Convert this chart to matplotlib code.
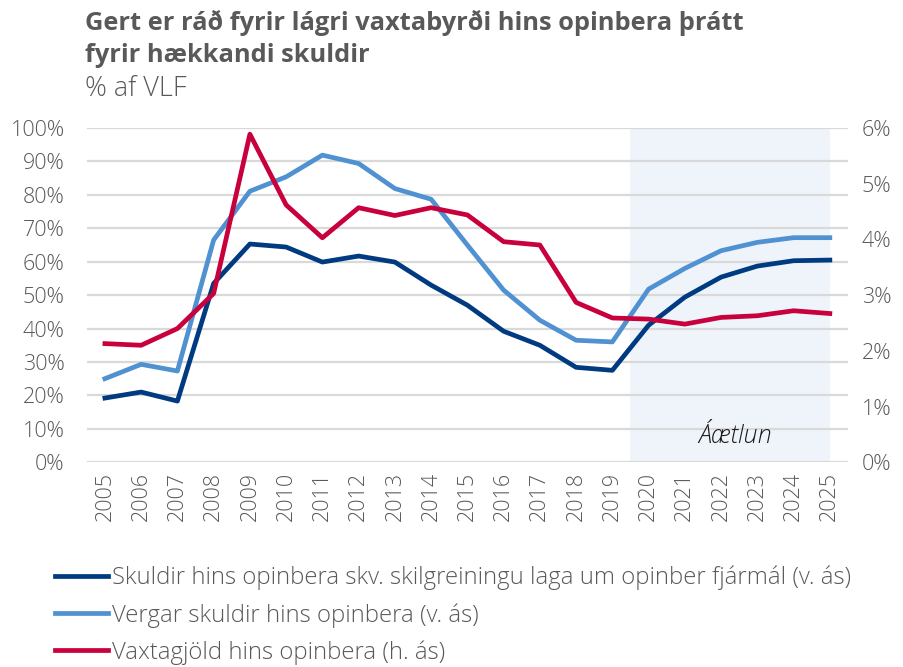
import matplotlib.pyplot as plt
import numpy as np

plt.rcParams['font.family'] = ['Open Sans', 'DejaVu Sans']

years = list(range(2005, 2026))
skuldir_log = [19.2, 21.0, 18.3, 53.5, 65.3, 64.4, 59.9, 61.7, 59.9, 53.0, 47.0,
               39.2, 35.0, 28.4, 27.5, 41.0, 49.4, 55.4, 58.7, 60.3, 60.5]
vergar_skuldir = [25.0, 29.3, 27.3, 66.5, 81.1, 85.4, 91.9, 89.4, 81.9, 78.7, 65.0,
                  51.5, 42.5, 36.5, 36.0, 51.8, 58.0, 63.3, 65.8, 67.2, 67.2]
vaxtagjold = [2.13, 2.10, 2.40, 3.03, 5.89, 4.62, 4.03, 4.57, 4.43, 4.57, 4.44,
              3.96, 3.90, 2.87, 2.59, 2.57, 2.48, 2.60, 2.63, 2.72, 2.67]
labels = ['Skuldir hins opinbera skv. skilgreiningu laga um opinber fjármál (v. ás)',
          'Vergar skuldir hins opinbera (v. ás)',
          'Vaxtagjöld hins opinbera (h. ás)']
forecast_start = 2019.5

navy = '#003A80'
light = '#4F91D1'
red = '#C8003C'
grey = '#595959'

fig = plt.figure(figsize=(9.04, 6.67), dpi=100)
ax = fig.add_axes([0.096, 0.307, 0.842, 0.501])
ax2 = ax.twinx()

ax.axvspan(forecast_start, 2025, color='#EFF4FB', zorder=0, lw=0)
ax.text(2022.4, 7.8, 'Áætlun', style='italic', fontweight='light', fontsize=18,
        color='#1a1a1a', ha='center', va='center')

for y in np.arange(0, 101, 10):
    ax.axhline(y, color='#D9D9D9', lw=1.6, zorder=1)

lw = 3.4
l1, = ax.plot(years, skuldir_log, color=navy, lw=lw, zorder=3)
l2, = ax.plot(years, vergar_skuldir, color=light, lw=lw, zorder=3)
l3, = ax2.plot(years, vaxtagjold, color=red, lw=lw, zorder=3)

ax.set_xlim(2004.5, 2025.5)
ax.set_ylim(0, 100)
ax2.set_ylim(0, 6)
ax.set_yticks(np.arange(0, 101, 10))
ax.set_yticklabels([f'{v}%' for v in range(0, 101, 10)])
ax2.set_yticks(range(0, 7))
ax2.set_yticklabels([f'{v}%' for v in range(0, 7)])
ax.set_xticks(years)
ax.set_xticklabels([str(y) for y in years], rotation=90)

for a in (ax, ax2):
    for s in a.spines.values():
        s.set_visible(False)
    a.tick_params(length=0, colors=grey, labelsize=15.5)
    for t in a.get_xticklabels() + a.get_yticklabels():
        t.set_fontweight('light')
ax.tick_params(axis='y', pad=16)
ax2.tick_params(axis='y', pad=10)
ax.tick_params(axis='x', pad=7)

fig.text(0.094, 1 - 30 / 667, 'Gert er ráð fyrir lágri vaxtabyrði hins opinbera þrátt',
         fontsize=18.3, fontweight='bold', color=grey, va='baseline')
fig.text(0.094, 1 - 62 / 667, 'fyrir hækkandi skuldir',
         fontsize=18.3, fontweight='bold', color=grey, va='baseline')
fig.text(0.094, 1 - 96 / 667, '% af VLF', fontsize=19.5, fontweight='light', color=grey, va='baseline')

leg = fig.legend([l1, l2, l3], labels, loc='upper left', bbox_to_anchor=(0.061, 1 - 566 / 667),
                 bbox_transform=fig.transFigure, frameon=False, fontsize=17.2, labelcolor=grey,
                 handlelength=2.2, handletextpad=0.2, labelspacing=0.53, borderpad=0,
                 borderaxespad=0)
for t in leg.get_texts():
    t.set_fontweight('light')

fig.savefig('out.png', dpi=100)
